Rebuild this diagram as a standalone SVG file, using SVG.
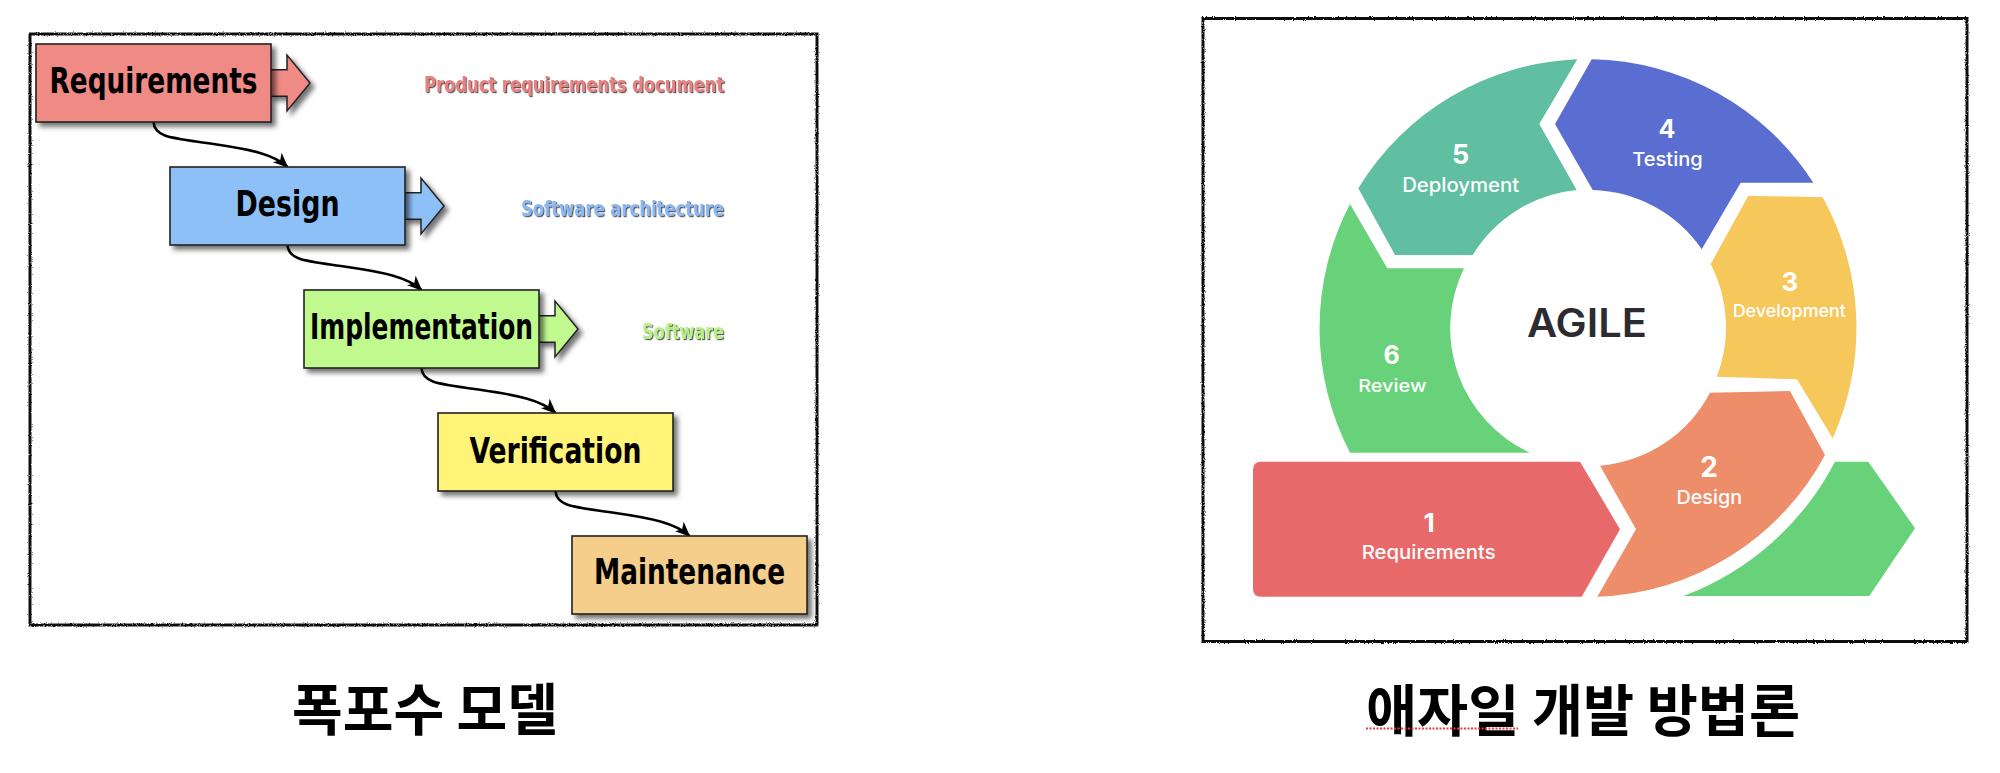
<svg xmlns="http://www.w3.org/2000/svg" width="2000" height="773" viewBox="0 0 2000 773">
<style>
.frame{fill:none;stroke:#111;stroke-width:3}
.box{stroke:#222;stroke-width:1.6}
.btxt{font-family:"DejaVu Sans","Liberation Sans",sans-serif;font-weight:bold;font-stretch:condensed;font-size:36px;fill:#000;text-anchor:middle}
.side{font-family:"DejaVu Sans","Liberation Sans",sans-serif;font-weight:bold;font-stretch:condensed;font-size:21px;text-anchor:end}
.conn{fill:none;stroke:#000;stroke-width:2.6}
.num{font-family:Inter,"Open Sans",sans-serif;font-weight:700;fill:#fff;text-anchor:middle}
.lab{font-family:Inter,"Open Sans",sans-serif;font-weight:500;fill:#fff;text-anchor:middle}
.title{font-family:"Noto Sans CJK KR",sans-serif;font-weight:700;font-size:56px;fill:#000;text-anchor:middle}
</style>
<defs>
<filter id="shadow" x="-10%" y="-10%" width="130%" height="140%">
<feDropShadow dx="4" dy="4" stdDeviation="2.5" flood-color="#000" flood-opacity="0.55"/>
</filter>
<filter id="tshadow" x="-5%" y="-20%" width="110%" height="150%">
<feDropShadow dx="1.2" dy="1.2" stdDeviation="0.4" flood-color="#333" flood-opacity="0.8"/>
</filter>
<filter id="rough" x="-2%" y="-2%" width="104%" height="104%">
<feTurbulence type="fractalNoise" baseFrequency="0.9" numOctaves="1" seed="4" result="n"/>
<feDisplacementMap in="SourceGraphic" in2="n" scale="3" xChannelSelector="R" yChannelSelector="G"/>
</filter>
<marker id="ah" markerUnits="userSpaceOnUse" markerWidth="16" markerHeight="13" refX="14" refY="6.5" orient="auto">
<path d="M0,0 L15,6.5 L0,13 L4,6.5 Z" fill="#000"/>
</marker>
<path id="sidearrow" d="M234,25.7 H251 V11 L274,39 L251,67 V52.3 H234 Z"/>
</defs>
<rect width="2000" height="773" fill="#fff"/>

<!-- Waterfall panel -->
<rect class="frame" x="30" y="34" width="787" height="591" filter="url(#rough)"/>

<g id="connectors">
<path class="conn" marker-end="url(#ah)" transform="translate(153.5,122)" d="M0,0 C1,16 20,16 60,22 C95,27 120,32 134,45"/>
<path class="conn" marker-end="url(#ah)" transform="translate(287.5,245)" d="M0,0 C1,16 20,16 60,22 C95,27 120,32 134,45"/>
<path class="conn" marker-end="url(#ah)" transform="translate(421.5,368)" d="M0,0 C1,16 20,16 60,22 C95,27 120,32 134,45"/>
<path class="conn" marker-end="url(#ah)" transform="translate(555.5,491)" d="M0,0 C1,16 20,16 60,22 C95,27 120,32 134,45"/>
</g>

<g id="wf-requirements">
<use href="#sidearrow" transform="translate(36,44)" fill="#f08a85" stroke="#222" stroke-width="1.5" filter="url(#shadow)"/>
<rect class="box" x="36" y="44" width="235" height="78" fill="#f08a85" filter="url(#shadow)"/>
<text class="btxt" x="153.5" y="93" textLength="208" lengthAdjust="spacingAndGlyphs">Requirements</text>
<text class="side" x="724" y="92" fill="#e8817f" filter="url(#tshadow)" textLength="300" lengthAdjust="spacingAndGlyphs">Product requirements document</text>
</g>
<g id="wf-design">
<use href="#sidearrow" transform="translate(170,167)" fill="#8ec0f8" stroke="#222" stroke-width="1.5" filter="url(#shadow)"/>
<rect class="box" x="170" y="167" width="235" height="78" fill="#8ec0f8" filter="url(#shadow)"/>
<text class="btxt" x="287.5" y="216" textLength="104" lengthAdjust="spacingAndGlyphs">Design</text>
<text class="side" x="724" y="216" fill="#8bb8f0" filter="url(#tshadow)" textLength="203" lengthAdjust="spacingAndGlyphs">Software architecture</text>
</g>
<g id="wf-implementation">
<use href="#sidearrow" transform="translate(304,290)" fill="#c0fa8f" stroke="#222" stroke-width="1.5" filter="url(#shadow)"/>
<rect class="box" x="304" y="290" width="235" height="78" fill="#c0fa8f" filter="url(#shadow)"/>
<text class="btxt" x="421.5" y="339" textLength="223" lengthAdjust="spacingAndGlyphs">Implementation</text>
<text class="side" x="724" y="339" fill="#b8f088" filter="url(#tshadow)" textLength="82" lengthAdjust="spacingAndGlyphs">Software</text>
</g>
<g id="wf-verification">
<rect class="box" x="438" y="413" width="235" height="78" fill="#fff378" filter="url(#shadow)"/>
<text class="btxt" x="555.5" y="463" textLength="172" lengthAdjust="spacingAndGlyphs">Verification</text>
</g>
<g id="wf-maintenance">
<rect class="box" x="572" y="536" width="235" height="78" fill="#f6ce8c" filter="url(#shadow)"/>
<text class="btxt" x="689.5" y="584" textLength="191" lengthAdjust="spacingAndGlyphs">Maintenance</text>
</g>

<text id="title-waterfall" class="title" x="425" y="730" textLength="266" lengthAdjust="spacingAndGlyphs">폭포수 모델</text>

<!-- Agile panel -->
<rect class="frame" x="1203" y="18.5" width="764" height="623" filter="url(#rough)"/>

<g id="ag-deployment">
<path fill="#5fbfa0" d="M1577.3,59.3 A269,269 0 0,0 1358.3,188.3 L1395,255 L1472.7,255 A137,137 0 0,1 1576.7,190 L1539.3,124 Z"/>
<text class="num" x="1460.7" y="164" font-size="27">5</text>
<text class="lab" x="1460.7" y="191.7" font-size="19.5" textLength="117" lengthAdjust="spacingAndGlyphs">Deployment</text>
</g>
<g id="ag-testing">
<path fill="#5a6ed2" d="M1591.7,59.3 A269,269 0 0,1 1813.3,182.7 L1740.7,182.7 L1701.7,249.3 A137,137 0 0,0 1592.7,190 L1555,124 Z"/>
<text class="num" x="1667" y="138.3" font-size="25">4</text>
<text class="lab" x="1667.5" y="165.5" font-size="19" textLength="70.6" lengthAdjust="spacingAndGlyphs">Testing</text>
</g>
<g id="ag-development">
<path fill="#f6c75a" d="M1822.7,197.3 A269,269 0 0,1 1832.7,438.3 L1797,379.3 L1716.7,376.7 A137,137 0 0,0 1710.7,264 L1748.3,195.7 Z"/>
<text class="num" x="1790" y="290.7" font-size="26">3</text>
<text class="lab" x="1789.3" y="316.7" font-size="17.5" textLength="113.3" lengthAdjust="spacingAndGlyphs">Development</text>
</g>
<g id="ag-design">
<path fill="#ed8d6a" d="M1710,392.7 L1790,391 L1825,455 A269,269 0 0,1 1597.3,596.7 L1636,529.3 L1600,465.7 A137,137 0 0,0 1710,392.7 Z"/>
<text class="num" x="1709" y="477.3" font-size="28">2</text>
<text class="lab" x="1709.3" y="504.3" font-size="19" textLength="65.7" lengthAdjust="spacingAndGlyphs">Design</text>
</g>
<g id="ag-review">
<path fill="#67d27a" d="M1350,204 A269,269 0 0,0 1350,452.7 L1530,452.7 A137,137 0 0,1 1464,268.3 L1387.3,268.3 Z"/>
<text class="num" x="1391.7" y="364" font-size="25">6</text>
<text class="lab" x="1392.3" y="391.7" font-size="17.5" textLength="68.3" lengthAdjust="spacingAndGlyphs">Review</text>
</g>
<g id="ag-requirements">
<path fill="#e86969" d="M1261,461.7 H1580 L1620,529.3 L1581.7,596.7 H1261 Q1253,596.7 1253,588.7 V469.7 Q1253,461.7 1261,461.7 Z"/>
<text class="num" x="1429" y="531.7" font-size="26">1</text>
<text class="lab" x="1428.7" y="559.3" font-size="18.5" textLength="134" lengthAdjust="spacingAndGlyphs">Requirements</text>
</g>
<g id="ag-next">
<path fill="#67d27a" d="M1835,461.7 H1868.3 L1915,528.3 L1869.3,596 H1683.3 A282,282 0 0,0 1835,461.7 Z"/>
</g>
<g id="ag-center">
<text x="1587" y="336.7" font-family="Inter,'Open Sans',sans-serif" font-weight="600" font-size="39" fill="#2b2b30" text-anchor="middle" textLength="120" lengthAdjust="spacingAndGlyphs">AGILE</text>
</g>

<text id="title-agile" class="title" x="1583" y="731" textLength="434" lengthAdjust="spacingAndGlyphs">애자일 개발 방법론</text>
<line x1="1366" y1="728.5" x2="1518" y2="728.5" stroke="#e04040" stroke-width="2" stroke-dasharray="2,1.5"/>
</svg>
